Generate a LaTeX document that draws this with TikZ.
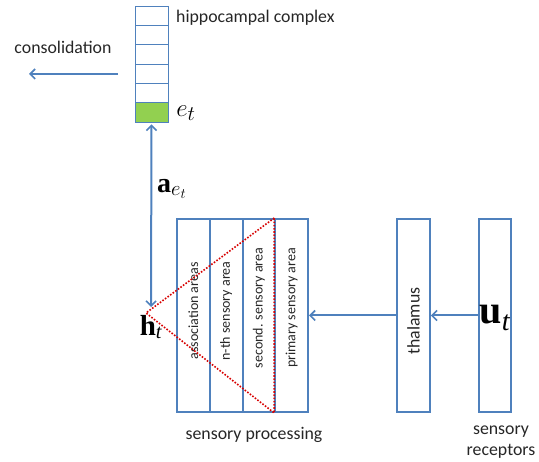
\documentclass[tikz,border=0pt]{standalone}
\usepackage[no-math]{fontspec}
\setmainfont{Carlito}
\newfontfamily\tms{Liberation Serif}
\usetikzlibrary{arrows.meta}
\definecolor{ob}{RGB}{79,129,189}
\definecolor{og}{RGB}{146,208,80}
\definecolor{dred}{RGB}{215,0,0}
\begin{document}
\begin{tikzpicture}[x=1pt,y=-1pt,
  box/.style={draw=ob,line width=2pt,minimum width=32.75pt,minimum height=193pt,inner sep=0pt},
  cell/.style={draw=ob,line width=0.8pt,minimum width=33pt,minimum height=19.33pt,inner sep=0pt},
  arr/.style={draw=ob,line width=2pt,-{Straight Barb[length=5pt,width=10pt,line width=1.6pt]}},
  lbl/.style={font=\fontsize{17.8}{21}\selectfont,text=black!85,inner sep=0pt},
  vlbl/.style={font=\fontsize{14}{16}\selectfont,text=black!85,rotate=90,inner sep=0pt},
  mlbl/.style={inner sep=0pt,text=black},
]
\useasboundingbox (0,0) rectangle (539,462);
% hippocampal complex cells
\node[cell] (c1) at (151.5,15.67) {};
\node[cell] (c2) at (151.5,35) {};
\node[cell] (c3) at (151.5,54.33) {};
\node[cell] (c4) at (151.5,73.67) {};
\node[cell] (c5) at (151.5,93) {};
\node[cell,fill=og] (ce) at (151.5,112.33) {};
\node[lbl,anchor=west] (hip) at (176,18) {hippocampal complex};
\node[lbl] (cons) at (63,47) {consolidation};
\coordinate (consA) at (118,74);
\coordinate (consB) at (29,74);
\draw[arr] (consA) -- (consB);
\node[mlbl] (et) at (186,113) {\fontsize{31}{33}\selectfont$e_t$};
% sensory processing columns
\node[box] (s1) at (193.375,315.5) {};
\node[box] (s2) at (226.125,315.5) {};
\node[box] (s3) at (258.875,315.5) {};
\node[box] (s4) at (291.625,315.5) {};
\node[vlbl] (t1) at (193.375,311) {association areas};
\node[vlbl] (t2) at (226.125,311) {n-th sensory area};
\node[vlbl] (t3) at (258.875,308) {second. sensory area};
\node[vlbl] (t4) at (291.625,308) {primary sensory area};
\node[box] (thal) at (413.5,315.5) {};
\node[font=\fontsize{17.8}{21}\selectfont,text=black!85,rotate=90,inner sep=0pt] (tl) at (413.5,321) {thalamus};
\node[box] (rec) at (495,315.5) {};
\node[mlbl] (ut) at (495,318) {\fontsize{40}{42}\selectfont{\tms\bfseries u}\textsubscript{\tms\itshape t}};
% red triangle
\coordinate (apex) at (146,313);
\draw[dred,line width=1.6pt,dash pattern=on 1.6pt off 1.6pt] (s4.north west) -- (apex) -- (s4.south west) -- cycle;
% h and a labels
\coordinate (h) at (151,307);
\node[mlbl] (ht) at (151,327) {\fontsize{29}{31}\selectfont{\tms\bfseries h}\textsubscript{\tms\itshape t}};
\node[mlbl] (aet) at (172,189) {\fontsize{28}{30}\selectfont{\tms\bfseries a}\textsubscript{$e_t$}};
\draw[draw=ob,line width=2pt,{Straight Barb[length=5pt,width=10pt,line width=1.6pt]}-{Straight Barb[length=5pt,width=10pt,line width=1.6pt]},shorten <=2pt] (ce.south) -- (h);
% arrows
\draw[arr] (rec.west) -- (thal.east);
\draw[arr] (thal.west) -- (s4.east);
% bottom labels
\node[lbl] (sp) at (254,435) {sensory processing};
\node[lbl,align=center] (sr) at (501,442) {sensory\\receptors};
\end{tikzpicture}
\end{document}
